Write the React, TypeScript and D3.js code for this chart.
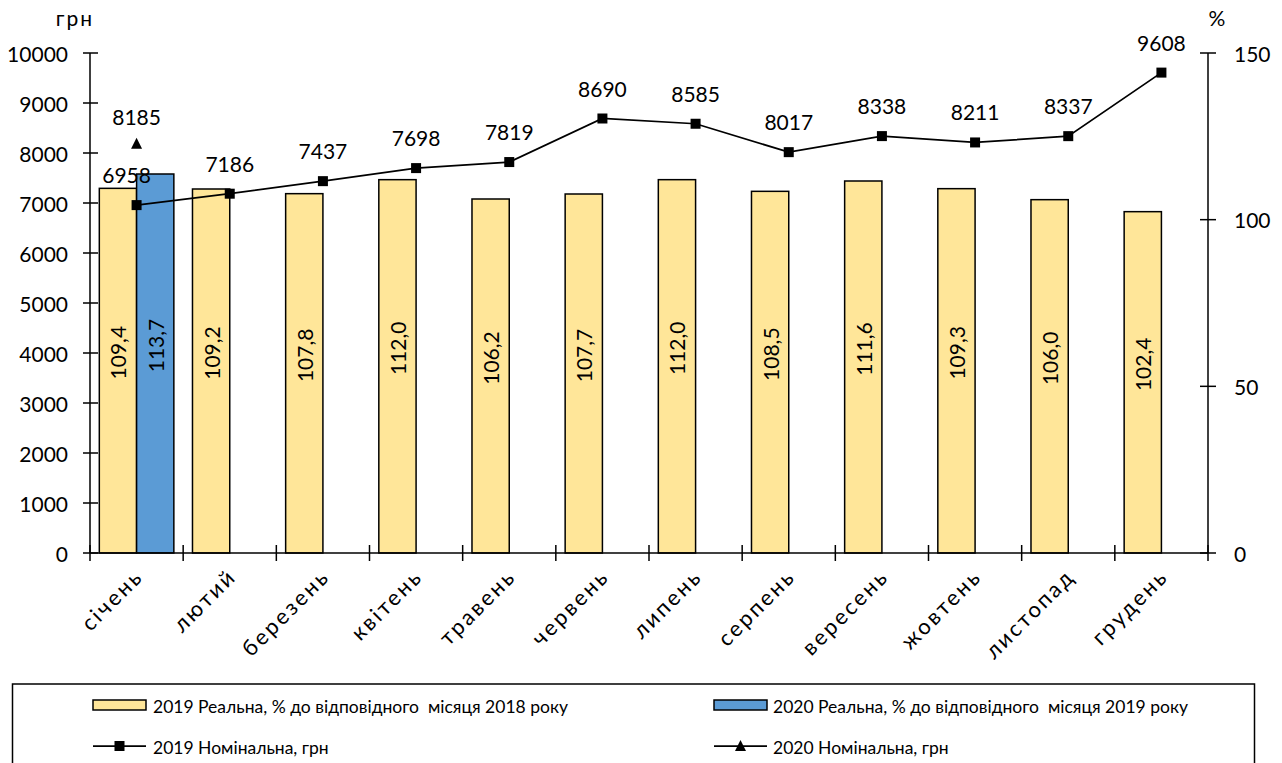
import React from "react";
import * as d3 from "d3";

const months = ["січень","лютий","березень","квітень","травень","червень","липень","серпень","вересень","жовтень","листопад","грудень"];
const real2019 = [109.4,109.2,107.8,112.0,106.2,107.7,112.0,108.5,111.6,109.3,106.0,102.4];
const real2020 = [113.7];
const nominal2019 = [6958,7186,7437,7698,7819,8690,8585,8017,8338,8211,8337,9608];
const nominal2020 = [8185];
const leftTicks = [0,1000,2000,3000,4000,5000,6000,7000,8000,9000,10000];
const rightTicks = [0,50,100,150];
const legendLabels = [
  "2019 Реальна, % до відповідного  місяця 2018 року",
  "2020 Реальна, % до відповідного  місяця 2019 року",
  "2019 Номінальна, грн",
  "2020 Номінальна, грн",
];

const W = 1282, H = 763;
const FONT = "Lato, 'Open Sans', sans-serif";
const YELLOW = "#FFE699";
const BLUE = "#5B9BD5";
const FS = 21;

export default function App() {
  const left = 90, right = 1208, top = 53, bottom = 553;
  const x = d3.scaleBand<string>().domain(months).range([left, right]).paddingInner(0).paddingOuter(0);
  const step = x.step();
  const inner = d3.scaleBand<string>().domain(["a","b"]).range([0.1*step, 0.9*step]);
  const yL = d3.scaleLinear().domain([0, 10000]).range([bottom, top]);
  const yR = d3.scaleLinear().domain([0, 150]).range([bottom, top]);
  const line = d3.line<number>().x((_, i) => x(months[i])! + step/2).y(d => yL(d));
  const bw = inner.bandwidth();

  const barLabelY = (v: number) => (yR(v) + bottom) / 2 - 18;

  return (
    <svg width={W} height={H} style={{ position: "absolute", left: 0, top: 0, background: "#fff" }} fontFamily={FONT}>
      {/* bars 2019 */}
      {real2019.map((v, i) => (
        <rect key={"b19"+i} x={x(months[i])! + inner("a")!} y={yR(v)} width={bw} height={bottom - yR(v)}
          fill={YELLOW} stroke="#000" strokeWidth={1.5} />
      ))}
      {real2020.map((v, i) => (
        <rect key={"b20"+i} x={x(months[i])! + inner("b")!} y={yR(v)} width={bw} height={bottom - yR(v)}
          fill={BLUE} stroke="#000" strokeWidth={1.5} />
      ))}
      {/* bar labels */}
      {real2019.map((v, i) => {
        const cx = x(months[i])! + inner("a")! + bw/2;
        const cy = barLabelY(v);
        return <text key={"l19"+i} transform={`translate(${cx},${cy}) rotate(-90)`} textAnchor="middle" dominantBaseline="central" fontSize={FS}>{v.toFixed(1).replace(".", ",")}</text>;
      })}
      {real2020.map((v, i) => {
        const cx = x(months[i])! + inner("b")! + bw/2;
        const cy = barLabelY(v);
        return <text key={"l20"+i} transform={`translate(${cx},${cy}) rotate(-90)`} textAnchor="middle" dominantBaseline="central" fontSize={FS}>{v.toFixed(1).replace(".", ",")}</text>;
      })}
      {/* axes */}
      <line x1={left} x2={right} y1={bottom} y2={bottom} stroke="#000" strokeWidth={1.5} />
      <line x1={left} x2={left} y1={top} y2={bottom} stroke="#000" strokeWidth={1.5} />
      <line x1={right} x2={right} y1={top} y2={bottom} stroke="#000" strokeWidth={1.5} />
      {leftTicks.map(t => (
        <g key={"lt"+t}>
          <line x1={left-7} x2={left+8} y1={yL(t)} y2={yL(t)} stroke="#000" strokeWidth={1.5} />
          <text x={68} y={yL(t)} textAnchor="end" dominantBaseline="central" fontSize={FS}>{t}</text>
        </g>
      ))}
      {rightTicks.map(t => (
        <g key={"rt"+t}>
          <line x1={right-8} x2={right+8} y1={yR(t)} y2={yR(t)} stroke="#000" strokeWidth={1.5} />
          <text x={1234} y={yR(t)} textAnchor="start" dominantBaseline="central" fontSize={FS}>{t}</text>
        </g>
      ))}
      {d3.range(months.length + 1).map(i => (
        <line key={"xt"+i} x1={left + i*step} x2={left + i*step} y1={bottom-8} y2={bottom+8} stroke="#000" strokeWidth={1.5} />
      ))}
      {months.map(m => (
        <text key={"m"+m} transform={`translate(${x(m)! + step/2 + 8},${578}) rotate(-45)`} textAnchor="end" fontSize={22} letterSpacing={2.5}>{m}</text>
      ))}
      <text x={75} y={26} textAnchor="middle" fontSize={FS} letterSpacing={2}>грн</text>
      <text x={1217} y={26} textAnchor="middle" fontSize={FS}>%</text>
      {/* line 2019 */}
      <path d={line(nominal2019)!} fill="none" stroke="#000" strokeWidth={1.75} />
      {nominal2019.map((v, i) => {
        const cx = x(months[i])! + step/2;
        return (
          <g key={"p"+i}>
            <rect x={cx-5} y={yL(v)-5} width={10} height={10} fill="#000" />
            <text x={i === 0 ? cx - 10 : cx} y={yL(v) - 22} textAnchor="middle" fontSize={FS}>{v}</text>
          </g>
        );
      })}
      {nominal2020.map((v, i) => {
        const cx = x(months[i])! + step/2;
        const cy = yL(v);
        return (
          <g key={"q"+i}>
            <path d={`M${cx},${cy-6}L${cx+5.5},${cy+5}L${cx-5.5},${cy+5}Z`} fill="#000" />
            <text x={cx} y={cy - 19} textAnchor="middle" fontSize={FS}>{v}</text>
          </g>
        );
      })}
      {/* legend */}
      <rect x={12.5} y={684} width={1242} height={100} fill="none" stroke="#000" strokeWidth={1.5} />
      <g fontSize={17.5}>
        <rect x={93} y={700} width={53} height={10} fill={YELLOW} stroke="#000" strokeWidth={1.5} />
        <text x={153} y={706} dominantBaseline="central" style={{ whiteSpace: "pre" }}>{legendLabels[0]}</text>
        <rect x={714} y={700} width={53} height={10} fill={BLUE} stroke="#000" strokeWidth={1.5} />
        <text x={773} y={706} dominantBaseline="central" style={{ whiteSpace: "pre" }}>{legendLabels[1]}</text>
        <line x1={93} x2={146} y1={746} y2={746} stroke="#000" strokeWidth={1.75} />
        <rect x={114.5} y={741} width={10} height={10} fill="#000" />
        <text x={153} y={747} dominantBaseline="central">{legendLabels[2]}</text>
        <line x1={714} x2={767} y1={746} y2={746} stroke="#000" strokeWidth={1.75} />
        <path d={`M740.5,740L746,751L735,751Z`} fill="#000" />
        <text x={773} y={747} dominantBaseline="central">{legendLabels[3]}</text>
      </g>
    </svg>
  );
}
